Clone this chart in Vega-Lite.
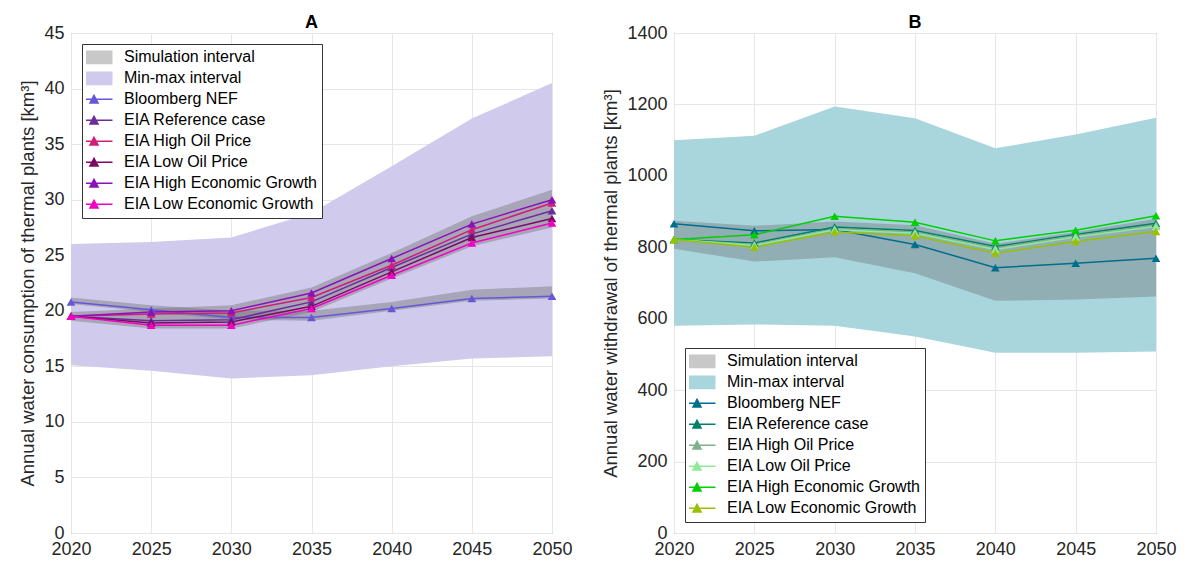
{
  "$schema": "https://vega.github.io/schema/vega-lite/v6.json",
  "background": "white",
  "padding": {"left": 18, "top": 13, "right": 5, "bottom": 5},
  "config": {
    "font": "Liberation Sans",
    "view": {"stroke": "#7f7f7f", "strokeWidth": 1},
    "axis": {"labelFontSize": 18, "titleFontSize": 18.5, "labelColor": "#262626", "titleColor": "#262626", "titleFontWeight": "normal", "gridColor": "#e6e6e6", "domain": false, "ticks": false, "labelPadding": 7, "titlePadding": 6, "labelFlush": false},
    "title": {"fontSize": 18, "fontWeight": "bold", "color": "#000000", "offset": -8},
    "legend": {"offset": 11, "strokeColor": "#333333", "fillColor": "white", "padding": 4, "labelFontSize": 16, "labelColor": "#000000", "symbolSize": 1369, "labelOffset": 22, "rowPadding": 2, "clipHeight": 18.7, "labelLimit": 400},
    "concat": {"spacing": 28}
  },
  "datasets": {
    "mmA": [
      {"year": 2020, "series": "Min-max interval", "lo": 15.1, "hi": 26.0},
      {"year": 2025, "series": "Min-max interval", "lo": 14.6, "hi": 26.2},
      {"year": 2030, "series": "Min-max interval", "lo": 13.9, "hi": 26.6},
      {"year": 2035, "series": "Min-max interval", "lo": 14.2, "hi": 28.8},
      {"year": 2040, "series": "Min-max interval", "lo": 15.0, "hi": 33.0},
      {"year": 2045, "series": "Min-max interval", "lo": 15.7, "hi": 37.3},
      {"year": 2050, "series": "Min-max interval", "lo": 15.9, "hi": 40.5}
    ],
    "simA": [
      {"year": 2020, "series": "Simulation interval", "grp": "EIA", "lo": 19.1, "hi": 19.9},
      {"year": 2025, "series": "Simulation interval", "grp": "EIA", "lo": 18.4, "hi": 20.2},
      {"year": 2030, "series": "Simulation interval", "grp": "EIA", "lo": 18.4, "hi": 20.5},
      {"year": 2035, "series": "Simulation interval", "grp": "EIA", "lo": 19.9, "hi": 22.1},
      {"year": 2040, "series": "Simulation interval", "grp": "EIA", "lo": 22.9, "hi": 25.2},
      {"year": 2045, "series": "Simulation interval", "grp": "EIA", "lo": 25.8, "hi": 28.5},
      {"year": 2050, "series": "Simulation interval", "grp": "EIA", "lo": 27.5, "hi": 30.9},
      {"year": 2020, "series": "Simulation interval", "grp": "BNEF", "lo": 20.6, "hi": 21.2},
      {"year": 2025, "series": "Simulation interval", "grp": "BNEF", "lo": 19.9, "hi": 20.5},
      {"year": 2030, "series": "Simulation interval", "grp": "BNEF", "lo": 19.2, "hi": 20.0},
      {"year": 2035, "series": "Simulation interval", "grp": "BNEF", "lo": 19.1, "hi": 20.0},
      {"year": 2040, "series": "Simulation interval", "grp": "BNEF", "lo": 20.0, "hi": 20.8},
      {"year": 2045, "series": "Simulation interval", "grp": "BNEF", "lo": 20.9, "hi": 21.9},
      {"year": 2050, "series": "Simulation interval", "grp": "BNEF", "lo": 21.1, "hi": 22.2}
    ],
    "lnA": [
      {"year": 2020, "series": "Bloomberg NEF", "value": 20.8},
      {"year": 2025, "series": "Bloomberg NEF", "value": 20.1},
      {"year": 2030, "series": "Bloomberg NEF", "value": 19.4},
      {"year": 2035, "series": "Bloomberg NEF", "value": 19.4},
      {"year": 2040, "series": "Bloomberg NEF", "value": 20.2},
      {"year": 2045, "series": "Bloomberg NEF", "value": 21.1},
      {"year": 2050, "series": "Bloomberg NEF", "value": 21.3},
      {"year": 2020, "series": "EIA Reference case", "value": 19.5},
      {"year": 2025, "series": "EIA Reference case", "value": 19.1},
      {"year": 2030, "series": "EIA Reference case", "value": 19.2},
      {"year": 2035, "series": "EIA Reference case", "value": 20.8},
      {"year": 2040, "series": "EIA Reference case", "value": 23.9},
      {"year": 2045, "series": "EIA Reference case", "value": 26.9},
      {"year": 2050, "series": "EIA Reference case", "value": 29.0},
      {"year": 2020, "series": "EIA High Oil Price", "value": 19.5},
      {"year": 2025, "series": "EIA High Oil Price", "value": 19.7},
      {"year": 2030, "series": "EIA High Oil Price", "value": 19.8},
      {"year": 2035, "series": "EIA High Oil Price", "value": 21.2},
      {"year": 2040, "series": "EIA High Oil Price", "value": 24.1},
      {"year": 2045, "series": "EIA High Oil Price", "value": 27.3},
      {"year": 2050, "series": "EIA High Oil Price", "value": 29.7},
      {"year": 2020, "series": "EIA Low Oil Price", "value": 19.5},
      {"year": 2025, "series": "EIA Low Oil Price", "value": 18.9},
      {"year": 2030, "series": "EIA Low Oil Price", "value": 19.0},
      {"year": 2035, "series": "EIA Low Oil Price", "value": 20.4},
      {"year": 2040, "series": "EIA Low Oil Price", "value": 23.5},
      {"year": 2045, "series": "EIA Low Oil Price", "value": 26.6},
      {"year": 2050, "series": "EIA Low Oil Price", "value": 28.3},
      {"year": 2020, "series": "EIA High Economic Growth", "value": 19.5},
      {"year": 2025, "series": "EIA High Economic Growth", "value": 19.9},
      {"year": 2030, "series": "EIA High Economic Growth", "value": 20.0},
      {"year": 2035, "series": "EIA High Economic Growth", "value": 21.6},
      {"year": 2040, "series": "EIA High Economic Growth", "value": 24.7},
      {"year": 2045, "series": "EIA High Economic Growth", "value": 27.8},
      {"year": 2050, "series": "EIA High Economic Growth", "value": 30.0},
      {"year": 2020, "series": "EIA Low Economic Growth", "value": 19.5},
      {"year": 2025, "series": "EIA Low Economic Growth", "value": 18.7},
      {"year": 2030, "series": "EIA Low Economic Growth", "value": 18.7},
      {"year": 2035, "series": "EIA Low Economic Growth", "value": 20.2},
      {"year": 2040, "series": "EIA Low Economic Growth", "value": 23.2},
      {"year": 2045, "series": "EIA Low Economic Growth", "value": 26.1},
      {"year": 2050, "series": "EIA Low Economic Growth", "value": 27.9}
    ],
    "mmB": [
      {"year": 2020, "series": "Min-max interval", "lo": 580, "hi": 1100},
      {"year": 2025, "series": "Min-max interval", "lo": 584, "hi": 1112},
      {"year": 2030, "series": "Min-max interval", "lo": 580, "hi": 1194},
      {"year": 2035, "series": "Min-max interval", "lo": 550, "hi": 1161},
      {"year": 2040, "series": "Min-max interval", "lo": 505, "hi": 1077},
      {"year": 2045, "series": "Min-max interval", "lo": 505, "hi": 1116},
      {"year": 2050, "series": "Min-max interval", "lo": 508, "hi": 1163}
    ],
    "simB": [
      {"year": 2020, "series": "Simulation interval", "grp": "ALL", "lo": 796, "hi": 874},
      {"year": 2025, "series": "Simulation interval", "grp": "ALL", "lo": 760, "hi": 860},
      {"year": 2030, "series": "Simulation interval", "grp": "ALL", "lo": 772, "hi": 872},
      {"year": 2035, "series": "Simulation interval", "grp": "ALL", "lo": 727, "hi": 862},
      {"year": 2040, "series": "Simulation interval", "grp": "ALL", "lo": 650, "hi": 810},
      {"year": 2045, "series": "Simulation interval", "grp": "ALL", "lo": 654, "hi": 843},
      {"year": 2050, "series": "Simulation interval", "grp": "ALL", "lo": 662, "hi": 880}
    ],
    "lnB": [
      {"year": 2020, "series": "Bloomberg NEF", "value": 866},
      {"year": 2025, "series": "Bloomberg NEF", "value": 846},
      {"year": 2030, "series": "Bloomberg NEF", "value": 850},
      {"year": 2035, "series": "Bloomberg NEF", "value": 808},
      {"year": 2040, "series": "Bloomberg NEF", "value": 743},
      {"year": 2045, "series": "Bloomberg NEF", "value": 755},
      {"year": 2050, "series": "Bloomberg NEF", "value": 769},
      {"year": 2020, "series": "EIA Reference case", "value": 822},
      {"year": 2025, "series": "EIA Reference case", "value": 812},
      {"year": 2030, "series": "EIA Reference case", "value": 857},
      {"year": 2035, "series": "EIA Reference case", "value": 847},
      {"year": 2040, "series": "EIA Reference case", "value": 802},
      {"year": 2045, "series": "EIA Reference case", "value": 836},
      {"year": 2050, "series": "EIA Reference case", "value": 867},
      {"year": 2020, "series": "EIA High Oil Price", "value": 822},
      {"year": 2025, "series": "EIA High Oil Price", "value": 808},
      {"year": 2030, "series": "EIA High Oil Price", "value": 852},
      {"year": 2035, "series": "EIA High Oil Price", "value": 843},
      {"year": 2040, "series": "EIA High Oil Price", "value": 798},
      {"year": 2045, "series": "EIA High Oil Price", "value": 832},
      {"year": 2050, "series": "EIA High Oil Price", "value": 862},
      {"year": 2020, "series": "EIA Low Oil Price", "value": 822},
      {"year": 2025, "series": "EIA Low Oil Price", "value": 805},
      {"year": 2030, "series": "EIA Low Oil Price", "value": 849},
      {"year": 2035, "series": "EIA Low Oil Price", "value": 839},
      {"year": 2040, "series": "EIA Low Oil Price", "value": 794},
      {"year": 2045, "series": "EIA Low Oil Price", "value": 829},
      {"year": 2050, "series": "EIA Low Oil Price", "value": 858},
      {"year": 2020, "series": "EIA High Economic Growth", "value": 822},
      {"year": 2025, "series": "EIA High Economic Growth", "value": 835},
      {"year": 2030, "series": "EIA High Economic Growth", "value": 887},
      {"year": 2035, "series": "EIA High Economic Growth", "value": 870},
      {"year": 2040, "series": "EIA High Economic Growth", "value": 818},
      {"year": 2045, "series": "EIA High Economic Growth", "value": 848},
      {"year": 2050, "series": "EIA High Economic Growth", "value": 888},
      {"year": 2020, "series": "EIA Low Economic Growth", "value": 822},
      {"year": 2025, "series": "EIA Low Economic Growth", "value": 800},
      {"year": 2030, "series": "EIA Low Economic Growth", "value": 843},
      {"year": 2035, "series": "EIA Low Economic Growth", "value": 832},
      {"year": 2040, "series": "EIA Low Economic Growth", "value": 783},
      {"year": 2045, "series": "EIA Low Economic Growth", "value": 816},
      {"year": 2050, "series": "EIA Low Economic Growth", "value": 844}
    ]
  },
  "resolve": {"scale": {"color": "independent", "y": "independent"}, "legend": {"color": "independent"}},
  "hconcat": [
    {
      "title": "A",
      "width": 481,
      "height": 500,
      "encoding": {
        "x": {"field": "year", "type": "quantitative", "title": null, "scale": {"domain": [2020, 2050], "nice": false, "zero": false}, "axis": {"values": [2020, 2025, 2030, 2035, 2040, 2045, 2050], "format": "d"}},
        "color": {"field": "series", "type": "nominal",
          "scale": {"domain": ["Simulation interval", "Min-max interval", "Bloomberg NEF", "EIA Reference case", "EIA High Oil Price", "EIA Low Oil Price", "EIA High Economic Growth", "EIA Low Economic Growth"],
                    "range": ["#c8c8c8", "#d0cbec", "#6657d6", "#6b2d9c", "#d01e78", "#7d0a62", "#8a12b8", "#f200c4"]},
          "legend": {"title": null, "orient": "top-left",
            "encode": {"symbols": {"update": {
              "shape": {"signal": "(datum.value == 'Simulation interval' || datum.value == 'Min-max interval') ? 'M-1,-0.37H1V0.37H-1Z' : 'M-1,0H1M-0.22,0.2L0,-0.22L0.22,0.2Z'"},
              "strokeWidth": {"signal": "(datum.value == 'Simulation interval' || datum.value == 'Min-max interval') ? 0 : 1.5"},
              "opacity": {"value": 1}, "fillOpacity": {"value": 1}, "strokeOpacity": {"value": 1}
            }}}}
        }
      },
      "layer": [
        {"data": {"name": "mmA"}, "mark": {"type": "area", "opacity": 1},
         "encoding": {"y": {"field": "lo", "type": "quantitative", "title": "Annual water consumption of thermal plants [km³]", "scale": {"domain": [0, 45], "nice": false}, "axis": {"values": [0, 5, 10, 15, 20, 25, 30, 35, 40, 45], "format": "d"}}, "y2": {"field": "hi"}}},
        {"data": {"name": "simA"}, "mark": {"type": "area", "opacity": 0.42},
         "encoding": {"y": {"field": "lo", "type": "quantitative"}, "y2": {"field": "hi"}, "detail": {"field": "grp"}, "color": {"value": "#707070"}}},
        {"data": {"name": "lnA"}, "mark": {"type": "line", "strokeWidth": 1.5, "point": {"shape": "triangle-up", "size": 75, "filled": true, "opacity": 1}},
         "encoding": {"y": {"field": "value", "type": "quantitative"}}}
      ]
    },
    {
      "title": "B",
      "width": 482,
      "height": 500,
      "encoding": {
        "x": {"field": "year", "type": "quantitative", "title": null, "scale": {"domain": [2020, 2050], "nice": false, "zero": false}, "axis": {"values": [2020, 2025, 2030, 2035, 2040, 2045, 2050], "format": "d"}},
        "color": {"field": "series", "type": "nominal",
          "scale": {"domain": ["Simulation interval", "Min-max interval", "Bloomberg NEF", "EIA Reference case", "EIA High Oil Price", "EIA Low Oil Price", "EIA High Economic Growth", "EIA Low Economic Growth"],
                    "range": ["#c8c8c8", "#a9d5dd", "#006e8c", "#00806a", "#7fb08c", "#90e89a", "#00d000", "#9ac000"]},
          "legend": {"title": null, "orient": "bottom-left",
            "encode": {"symbols": {"update": {
              "shape": {"signal": "(datum.value == 'Simulation interval' || datum.value == 'Min-max interval') ? 'M-1,-0.37H1V0.37H-1Z' : 'M-1,0H1M-0.22,0.2L0,-0.22L0.22,0.2Z'"},
              "strokeWidth": {"signal": "(datum.value == 'Simulation interval' || datum.value == 'Min-max interval') ? 0 : 1.5"},
              "opacity": {"value": 1}, "fillOpacity": {"value": 1}, "strokeOpacity": {"value": 1}
            }}}}
        }
      },
      "layer": [
        {"data": {"name": "mmB"}, "mark": {"type": "area", "opacity": 1},
         "encoding": {"y": {"field": "lo", "type": "quantitative", "title": "Annual water withdrawal of thermal plants [km³]", "scale": {"domain": [0, 1400], "nice": false}, "axis": {"values": [0, 200, 400, 600, 800, 1000, 1200, 1400], "format": "d"}}, "y2": {"field": "hi"}}},
        {"data": {"name": "simB"}, "mark": {"type": "area", "opacity": 0.33},
         "encoding": {"y": {"field": "lo", "type": "quantitative"}, "y2": {"field": "hi"}, "detail": {"field": "grp"}, "color": {"value": "#5e5e5e"}}},
        {"data": {"name": "lnB"}, "mark": {"type": "line", "strokeWidth": 1.5, "point": {"shape": "triangle-up", "size": 75, "filled": true, "opacity": 1}},
         "encoding": {"y": {"field": "value", "type": "quantitative"}}}
      ]
    }
  ]
}
